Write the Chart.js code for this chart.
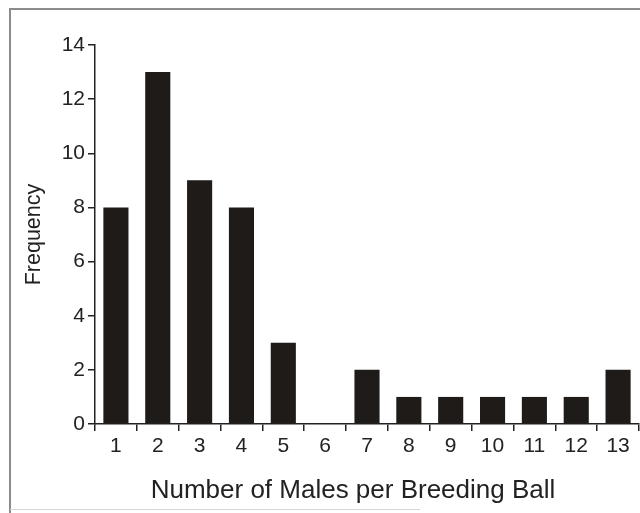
<!DOCTYPE html>
<html>
<head>
<meta charset="utf-8">
<script src="https://cdn.jsdelivr.net/npm/chart.js@4"></script>
<style>
  html, body { margin: 0; padding: 0; background: #ffffff; }
  #wrap { width: 640px; height: 513px; position: relative; }
</style>
</head>
<body>
<div id="wrap"><canvas id="c" width="640" height="513"></canvas></div>
<script>
// Breeding ball sizes and how often each was observed
const males = ['1', '2', '3', '4', '5', '6', '7', '8', '9', '10', '11', '12', '13'];
const frequency = [8, 13, 9, 8, 3, 0, 2, 1, 1, 1, 1, 1, 2];
const yTicks = [0, 2, 4, 6, 8, 10, 12, 14];

const FONT = '"Liberation Sans", Arial, Helvetica, sans-serif';
const INK = '#1e1b18';

// Grey page frame around the figure, and the x-axis caption
const framePlugin = {
  id: 'frame',
  beforeDraw(chart) {
    const ctx = chart.ctx;
    ctx.save();
    ctx.strokeStyle = '#8c8c8c';
    ctx.lineWidth = 2;
    ctx.beginPath();
    ctx.moveTo(700, 9);
    ctx.lineTo(10, 9);
    ctx.lineTo(10, 513);
    ctx.stroke();
    ctx.strokeStyle = '#d6d6d6';
    ctx.lineWidth = 1;
    ctx.beginPath();
    ctx.moveTo(10, 509.5);
    ctx.lineTo(420, 509.5);
    ctx.stroke();
    ctx.restore();
  },
  afterDraw(chart) {
    const ctx = chart.ctx;
    ctx.save();
    ctx.fillStyle = '#222';
    ctx.font = '26px ' + FONT;
    ctx.textAlign = 'center';
    ctx.textBaseline = 'middle';
    ctx.fillText('Number of Males per Breeding Ball', 353, 491);
    ctx.restore();
  }
};

new Chart(document.getElementById('c'), {
  type: 'bar',
  data: {
    labels: males,
    datasets: [{
      data: frequency,
      backgroundColor: INK,
      borderWidth: 0,
      barPercentage: 0.6,
      categoryPercentage: 1.0
    }]
  },
  options: {
    responsive: false,
    animation: false,
    layout: { padding: { top: 45, right: 1, left: 0, bottom: 0 } },
    plugins: { legend: { display: false }, tooltip: { enabled: false } },
    scales: {
      x: {
        offset: true,
        grid: {
          offset: true,
          drawOnChartArea: false,
          drawTicks: true,
          tickLength: 7,
          color: '#222',
          lineWidth: 1.5
        },
        border: { display: true, color: '#222', width: 1.5 },
        ticks: {
          color: '#222',
          font: { family: FONT, size: 21 },
          padding: 3,
          maxRotation: 0,
          autoSkip: false
        },
        afterFit(scale) { scale.height = 89; }
      },
      y: {
        min: 0,
        max: 14,
        afterBuildTicks(scale) { scale.ticks = yTicks.map(v => ({ value: v })); },
        grid: {
          drawOnChartArea: false,
          drawTicks: true,
          tickLength: 7,
          color: '#222',
          lineWidth: 1.5
        },
        border: { display: true, color: '#222', width: 1.5 },
        ticks: {
          color: '#222',
          font: { family: FONT, size: 21 },
          padding: 3
        },
        title: {
          display: true,
          text: 'Frequency',
          color: '#222',
          font: { family: FONT, size: 21.5 },
          padding: { top: 21, bottom: 0 }
        },
        afterFit(scale) { scale.width = 95; }
      }
    }
  },
  plugins: [framePlugin]
});
</script>
</body>
</html>
